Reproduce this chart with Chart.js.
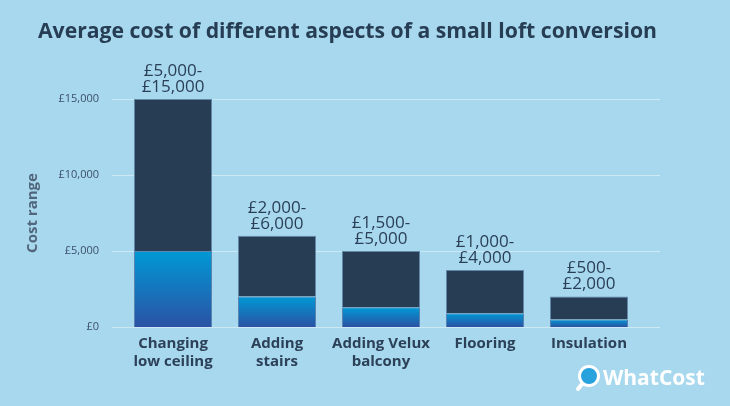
<!DOCTYPE html>
<html>
<head>
<meta charset="utf-8">
<script src="https://cdn.jsdelivr.net/npm/chart.js@4"></script>
<style>
  html, body { margin: 0; padding: 0; background: #a7d8ee; }
  #wrap { width: 730px; height: 406px; position: relative; }
</style>
</head>
<body>
<div id="wrap"><canvas id="loftChart"></canvas></div>
<script>
// Chart data
const categories = [['Changing', 'low ceiling'], ['Adding', 'stairs'], ['Adding Velux', 'balcony'], ['Flooring'], ['Insulation']];
const lowCost = [5000, 2000, 1300, 900, 500];
const highCost = [15000, 6000, 5000, 3750, 2000];
const rangeLabels = [['£5,000-', '£15,000'], ['£2,000-', '£6,000'], ['£1,500-', '£5,000'], ['£1,000-', '£4,000'], ['£500-', '£2,000']];
const yTicks = [0, 5000, 10000, 15000];

const FONT = "'Open Sans', 'Noto Sans', sans-serif";
const NAVY = '#263d54';

// gradient for the lower (minimum cost) part of each bar
function lowGradient(ctx) {
    const chart = ctx.chart;
    if (!chart.chartArea || ctx.type !== 'data') return '#0a8fcf';
    const y = chart.scales.y;
    const top = y.getPixelForValue(lowCost[ctx.dataIndex]);
    const bottom = y.getPixelForValue(0);
    const g = chart.ctx.createLinearGradient(0, top, 0, bottom);
    g.addColorStop(0, '#0099d5');
    g.addColorStop(1, '#2b52a4');
    return g;
}

// grid lines run a bit wider than the bars
const gridPlugin = {
    id: 'gridLines',
    beforeDatasetsDraw(chart) {
        const { ctx, scales: { y } } = chart;
        ctx.save();
        ctx.strokeStyle = 'rgba(255,255,255,0.45)';
        ctx.lineWidth = 1;
        yTicks.forEach(v => {
            const py = Math.round(y.getPixelForValue(v)) + 0.5;
            ctx.beginPath();
            ctx.moveTo(112, py);
            ctx.lineTo(660, py);
            ctx.stroke();
        });
        ctx.restore();
    }
};

// range labels above bars, title and logo
const decorPlugin = {
    id: 'decor',
    afterDatasetsDraw(chart) {
        const { ctx } = chart;
        const meta = chart.getDatasetMeta(1);
        ctx.save();
        ctx.fillStyle = '#2a3f56';
        ctx.font = '17px ' + FONT;
        ctx.textAlign = 'center';
        ctx.textBaseline = 'middle';
        meta.data.forEach((bar, i) => {
            const lines = rangeLabels[i];
            lines.forEach((t, j) => {
                ctx.fillText(t, bar.x, bar.y - 12 - (lines.length - 1 - j) * 16);
            });
        });

        // title
        ctx.fillStyle = NAVY;
        ctx.textAlign = 'left';
        ctx.textBaseline = 'alphabetic';
        const title = 'Average cost of different aspects of a small loft conversion';
        let size = 21;
        ctx.font = 'bold ' + size + 'px ' + FONT;
        size = size * 619 / ctx.measureText(title).width;
        ctx.font = 'bold ' + size.toFixed(2) + 'px ' + FONT;
        ctx.fillText(title, 38, 38);

        // WhatCost logo
        ctx.strokeStyle = '#ffffff';
        ctx.fillStyle = '#27a2dd';
        ctx.lineWidth = 3;
        ctx.beginPath();
        ctx.arc(589, 376, 9.5, 0, Math.PI * 2);
        ctx.fill();
        ctx.stroke();
        ctx.lineCap = 'round';
        ctx.lineWidth = 4;
        ctx.beginPath();
        ctx.moveTo(582, 384);
        ctx.lineTo(578, 389);
        ctx.stroke();
        ctx.fillStyle = '#ffffff';
        ctx.font = 'bold 21px ' + FONT;
        ctx.fillText('WhatCost', 603, 385);
        ctx.restore();
    }
};

const ctx = document.getElementById('loftChart').getContext('2d');
const loftChart = new Chart(ctx, {
    type: 'bar',
    data: {
        labels: categories,
        datasets: [{
            label: 'Minimum',
            data: lowCost,
            backgroundColor: lowGradient,
            borderColor: 'rgba(70,110,160,0.8)',
            borderWidth: 1,
            order: 1
        }, {
            label: 'Range',
            data: lowCost.map((v, i) => [v, highCost[i]]),
            backgroundColor: NAVY,
            borderColor: 'rgba(90,125,160,0.9)',
            borderWidth: 1,
            order: 2
        }]
    },
    options: {
        responsive: true,
        maintainAspectRatio: false,
        animation: false,
        devicePixelRatio: 1,
        layout: { padding: { top: 99, right: 89, bottom: 0, left: 0 } },
        datasets: {
            bar: { grouped: false, categoryPercentage: 1, barPercentage: 0.75 }
        },
        plugins: {
            legend: { display: false },
            tooltip: { enabled: false },
            title: { display: false }
        },
        scales: {
            x: {
                grid: { display: false },
                border: { display: false },
                ticks: {
                    color: '#2c4158',
                    font: { family: FONT, size: 15, weight: 'bold', lineHeight: 1.2 },
                    padding: 0,
                    maxRotation: 0,
                    autoSkip: false
                },
                afterFit(scale) { scale.height = 79; }
            },
            y: {
                min: 0,
                max: 15000,
                grid: { display: false },
                border: { display: false },
                ticks: {
                    stepSize: 5000,
                    color: '#3c5068',
                    font: { family: FONT, size: 11 },
                    padding: 14,
                    callback: v => '£' + v.toLocaleString('en-GB')
                },
                title: {
                    display: true,
                    text: 'Cost range',
                    color: '#51667c',
                    font: { family: FONT, size: 15, weight: 'bold' },
                    padding: { top: 24, bottom: 0 }
                },
                afterFit(scale) { scale.width = 121; }
            }
        }
    },
    plugins: [gridPlugin, decorPlugin]
});
</script>
</body>
</html>
